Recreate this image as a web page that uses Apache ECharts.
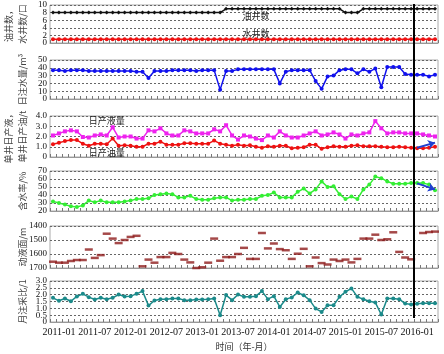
<!DOCTYPE html>
<html>
<head>
<meta charset="utf-8">
<title>油井动态曲线</title>
<script src="https://cdn.jsdelivr.net/npm/echarts@6/dist/echarts.min.js"></script>
<style>
	html, body { margin: 0; padding: 0; background: #fff; }
	#main { width: 444px; height: 354px; }
</style>
</head>
<body>
<div id="main"></div>
<script>
// 月份 2010-12 ~ 2016-04
let months = [];
for (let i = 0; i < 65; i++) {
	let y = 2010 + Math.floor((11 + i) / 12);
	let m = (11 + i) % 12 + 1;
	months.push(y + '-' + (m < 10 ? '0' + m : m));
}

// 油井数 / 水井数 (口)
let oilWells = [8,8,8,8,8,8,8,8,8,8, 8,8,8,8,8,8,8,8,8,8, 8,8,8,8,8,8,8,8,8,9, 9,9,9,9,9,9,9,9,9,9, 9,9,9,9,9,9,9,9,9,8, 8,8,9,9,9,9,9,9,9,9, 9,9,9,9,9];
let waterWells = [1,1,1,1,1,1,1,1,1,1, 1,1,1,1,1,1,1,1,1,1, 1,1,1,1,1,1,1,1,1,1, 1,1,1,1,1,1,1,1,1,1, 1,1,1,1,1,1,1,1,1,1, 1,1,1,1,1,1,1,1,1,1, 1,1,1,1,1];
// 日注水量 m3
let injection = [37,37,36,37,37,37,36,36,36,36, 36,36,36,36,35,35,27,36,36,36, 37,37,37,37,36,37,37,37,12,36, 36,38,38,38,38,38,38,38,20,35, 37,37,37,37,23,13,29,30,37,38, 38,33,38,35,39,15,41,41,41,32, 31,31,31,29,31];
// 单井日产液 / 日产油 t
let liquid = [2.1,2.3,2.5,2.6,2.5,1.95,1.9,2.1,2.2,2.1, 2.9,1.9,2.0,2.0,1.8,1.8,2.6,2.5,2.8,2.3, 2.1,2.1,2.6,2.5,2.3,2.3,2.3,2.7,2.5,3.1, 2.1,1.7,2.1,2.0,1.8,1.65,2.1,1.9,2.5,2.1, 1.9,1.9,2.1,2.3,2.5,2.1,2.2,2.4,2.2,1.8, 2.2,2.1,2.3,2.4,3.5,2.8,2.3,2.4,2.4,2.3, 2.3,2.3,2.2,2.1,2.0];
let oil = [1.25,1.4,1.55,1.65,1.65,1.3,1.1,1.3,1.3,1.25, 1.8,1.1,1.15,1.1,1.0,1.0,1.3,1.3,1.5,1.2, 1.2,1.2,1.35,1.35,1.3,1.3,1.3,1.6,1.3,1.2, 1.1,1.2,1.1,1.15,1.0,0.9,1.05,1.0,1.1,1.1, 0.85,0.9,0.95,1.2,1.2,0.8,0.95,1.05,1.0,1.0, 1.1,1.15,1.05,1.05,1.05,1.0,0.95,0.95,1.0,0.95, 0.9,0.85,0.85,0.9,1.0];
// 含水率 %
let waterCut = [32,30,28,26,25,27,33,31,33,31, 31,31,32,33,35,35,36,40,41,42, 41,37,37,39,35,34,34,36,37,37, 33,34,34,35,35,39,40,43,37,37, 37,44,48,42,47,57,50,51,41,35, 38,35,47,53,63,61,57,54,54,54, 55,55,55,53,46];
// 动液面 m
let fluidLevel = [1655,1662,1662,1650,1643,1643,1568,1628,1608,1455, 1490,1522,1500,1478,1470,1688,1640,1662,1622,1622, 1592,1600,1640,1660,1700,1695,1662,1490,1648,1622, 1622,1600,1556,1635,1635,1450,1560,1525,1565,1573, 1635,1598,1563,1688,1625,1665,1675,1640,1650,1640, 1660,1635,1490,1490,1462,1500,1495,1445,1585,1625, 1638,null,1450,1443,1440];
// 月注采比
let ratio = [1.77,1.55,1.72,1.52,1.87,2.06,1.82,1.65,1.77,1.67, 1.77,2.01,1.87,1.89,2.06,2.26,1.2,1.57,1.67,1.67, 1.72,1.72,1.6,1.6,1.65,1.65,1.67,1.72,0.49,1.97, 1.6,2.01,1.84,1.84,1.89,2.26,1.67,1.89,1.1,1.67, 1.8,2.16,1.95,1.6,0.98,0.74,1.23,1.23,1.84,2.21, 2.46,1.84,1.67,1.52,1.43,0.54,1.72,1.72,1.67,1.35, 1.28,1.33,1.38,1.38,1.38];

// 纵轴刻度标签 (自下而上)
let ticksWells = ['0', '2', '4', '6', '8', '10'];
let ticksInj = ['0', '10', '20', '30', '40', '50'];
let ticksProd = ['0', '1.0', '2.0', '3.0', '4.0'];
let ticksCut = ['20', '30', '40', '50', '60', '70'];
let ticksLevel = ['1700', '1600', '1500', '1400'];
let ticksRatio = ['0', '0.5', '1.0', '1.5', '2.0', '2.5', '3.0'];

// 竖线位置 (2015-12 与 2016-01 之间)
let splitPos = 60.5;

let serif = '"Liberation Serif", "Times New Roman", serif';
let cjk = '"Noto Sans CJK SC", sans-serif';

let panels = [
	{ top: 5, height: 38 },
	{ top: 60, height: 39 },
	{ top: 116, height: 41 },
	{ top: 171, height: 40 },
	{ top: 226, height: 42 },
	{ top: 281, height: 41 }
];

function makeX(idx, last) {
	return {
		type: 'category',
		gridIndex: idx,
		data: months,
		boundaryGap: true,
		axisLine: { show: true, lineStyle: { color: '#999' } },
		axisTick: { show: true, inside: true, length: 3, interval: 0, lineStyle: { color: '#777' } },
		axisLabel: {
			show: last,
			interval: (i, v) => /-(01|07)$/.test(v),
			fontFamily: serif,
			fontSize: 10,
			color: '#111',
			margin: 5
		},
		splitLine: { show: false },
		name: last ? '时间（年-月）' : '',
		nameLocation: 'middle',
		nameGap: 20,
		nameMoveOverlap: false,
		nameTextStyle: { fontFamily: cjk, fontSize: 9, color: '#333' }
	};
}

// 数值轴: 负责映射与网格虚线, 不显示标签
function makeY(idx, name, min, max, interval, inverse) {
	return {
		type: 'value',
		gridIndex: idx,
		position: 'left',
		min: min,
		max: max,
		interval: interval,
		inverse: !!inverse,
		name: name,
		nameLocation: 'middle',
		nameRotate: 90,
		nameGap: 20,
		nameMoveOverlap: false,
		nameTextStyle: { fontFamily: cjk, fontSize: 9, color: '#444', lineHeight: 14 },
		axisLine: { show: false },
		axisTick: { show: false },
		axisLabel: { show: false },
		splitLine: { show: true, lineStyle: { type: [2, 2], color: '#666', width: 1 } }
	};
}

// 标签轴: 每个刻度都显示
function makeLabelY(idx, ticks) {
	return {
		type: 'category',
		gridIndex: idx,
		position: 'left',
		offset: 0,
		data: ticks,
		boundaryGap: false,
		axisLine: { show: false },
		axisTick: { show: false },
		splitLine: { show: false },
		axisLabel: { show: true, interval: 0, fontFamily: serif, fontSize: 9, color: '#111', margin: 3 }
	};
}

function textMark(text, x, y) {
	return {
		symbol: 'rect',
		symbolSize: 1,
		silent: true,
		itemStyle: { color: 'transparent' },
		label: { show: true, position: 'inside', formatter: text, fontFamily: cjk, fontSize: 9, color: '#222' },
		data: [{ coord: [x, y] }]
	};
}

function arrowMark(from, to) {
	return {
		silent: true,
		symbol: ['none', 'arrow'],
		symbolSize: 7,
		label: { show: false },
		lineStyle: { color: '#1f3fd0', width: 2, type: 'solid' },
		data: [[{ coord: from }, { coord: to }]]
	};
}

function lineSeries(idx, data, color, symbol, extra) {
	return Object.assign({
		type: 'line',
		xAxisIndex: idx,
		yAxisIndex: idx,
		data: data,
		symbol: symbol,
		symbolSize: 4,
		showAllSymbol: true,
		itemStyle: { color: color },
		lineStyle: { color: color, width: 1.5 },
		z: 3
	}, extra || {});
}

let myChart = echarts.init(document.getElementById('main'), null, { renderer: 'canvas' });

let grids = panels.map(p => ({
	left: 50, right: 6, top: p.top, height: p.height,
	show: true, borderColor: '#aaa', borderWidth: 1,
	containLabel: false, outerBoundsMode: 'none'
}));
// 覆盖层, 用来画贯穿各图的竖线
grids.push({ left: 50, right: 6, top: 4, height: 314, show: false, containLabel: false, outerBoundsMode: 'none' });

let xAxes = panels.map((p, i) => makeX(i, i === panels.length - 1));
xAxes.push({ type: 'value', gridIndex: 6, min: -0.5, max: 64.5, show: false });

let yAxes = [
	makeY(0, '油井数，\n水井数/口', 0, 10, 2),
	makeY(1, '日注水量/m³', 0, 50, 10),
	makeY(2, '单井日产液，\n单井日产油/t', 0, 4, 1),
	makeY(3, '含水率/%', 20, 70, 10),
	makeY(4, '动液面/m', 1400, 1700, 100, true),
	makeY(5, '月注采比/1', 0, 3, 0.5),
	{ type: 'value', gridIndex: 6, min: 0, max: 1, show: false },
	makeLabelY(0, ticksWells),
	makeLabelY(1, ticksInj),
	makeLabelY(2, ticksProd),
	makeLabelY(3, ticksCut),
	makeLabelY(4, ticksLevel),
	makeLabelY(5, ticksRatio)
];

let option = {
	animation: false,
	backgroundColor: '#fff',
	grid: grids,
	xAxis: xAxes,
	yAxis: yAxes,
	series: [
		lineSeries(0, oilWells, '#111', 'diamond', { markPoint: textMark('油井数', months[34], 7.3) }),
		lineSeries(0, waterWells, '#ee1111', 'circle', { markPoint: textMark('水井数', months[34], 2.35) }),
		lineSeries(1, injection, '#1111ee', 'circle'),
		lineSeries(2, liquid, '#ee22ee', 'rect', { markPoint: textMark('日产液量', months[9], 3.54) }),
		lineSeries(2, oil, '#ee1111', 'circle', {
			markPoint: textMark('日产油量', months[9], 0.42),
			markLine: arrowMark([months[61], 0.9], [months[64], 1.4])
		}),
		lineSeries(3, waterCut, '#33ee33', 'circle', {
			markLine: arrowMark([months[61], 54.5], [months[64], 47])
		}),
		{
			type: 'scatter',
			xAxisIndex: 4,
			yAxisIndex: 4,
			data: fluidLevel,
			symbol: 'rect',
			symbolSize: [8, 2.5],
			itemStyle: { color: '#8e1b1b' }
		},
		lineSeries(5, ratio, '#1b8a8a', 'circle'),
		{
			type: 'line',
			xAxisIndex: 6,
			yAxisIndex: 6,
			data: [[splitPos, 0]],
			showSymbol: false,
			lineStyle: { width: 0 },
			z: 10,
			markLine: {
				silent: true,
				symbol: 'none',
				label: { show: false },
				lineStyle: { color: '#000', width: 2, type: 'solid' },
				data: [{ xAxis: splitPos }]
			}
		}
	]
};

myChart.setOption(option);
</script>
</body>
</html>
